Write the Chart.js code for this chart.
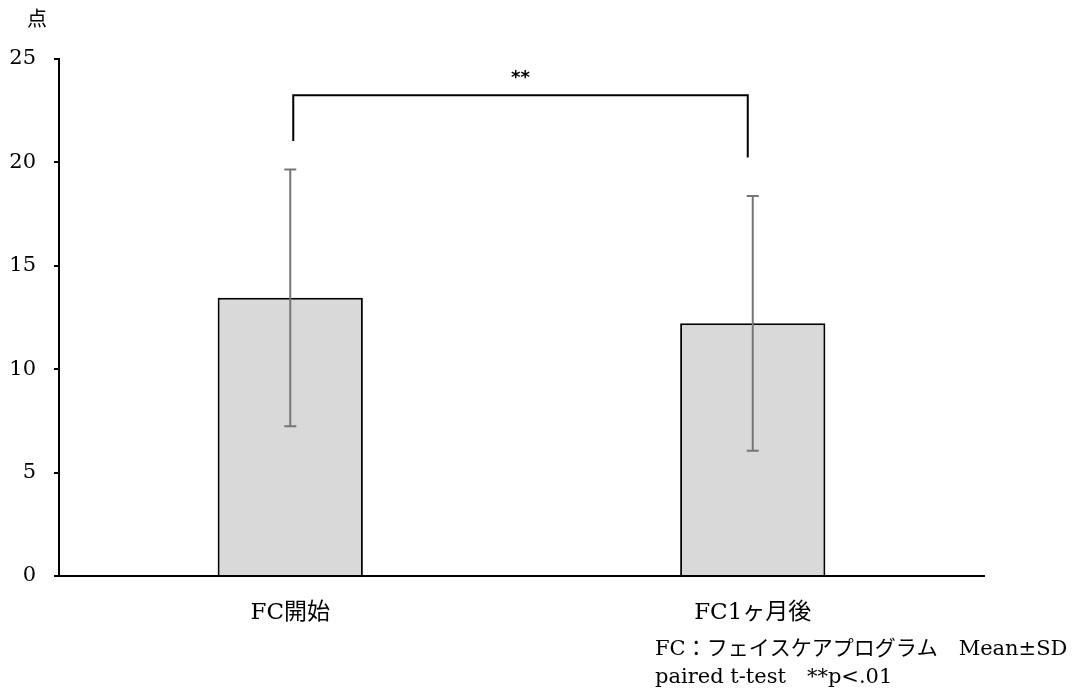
<!DOCTYPE html>
<html>
<head>
<meta charset="utf-8">
<script src="https://cdn.jsdelivr.net/npm/chart.js@4"></script>
<style>
  html, body { margin: 0; padding: 0; background: #fff; }
  #wrap { width: 1079px; height: 695px; position: relative; }
</style>
</head>
<body>
<div id="wrap"><canvas id="chart"></canvas></div>
<script>
// categories and values
const labels = ["FC開始", "FC1ヶ月後"];
const means = [13.45, 12.22];
const sds = [6.21, 6.16];
// bracket: top level, left foot, right foot (in points)
const bracketLevels = [23.25, 21.03, 20.24];
const yTicks = [0, 5, 10, 15, 20, 25];
const serif = "'DejaVu Serif', 'Noto Sans CJK JP', serif";

// error bars drawn from means/sds through the y scale
const errorBars = {
  id: "errorBars",
  afterDatasetsDraw(chart) {
    const { ctx, scales: { x, y } } = chart;
    ctx.save();
    ctx.strokeStyle = "#767676";
    ctx.lineWidth = 2;
    means.forEach((m, i) => {
      const px = x.getPixelForValue(i);
      const top = y.getPixelForValue(m + sds[i]);
      const bot = y.getPixelForValue(m - sds[i]);
      ctx.beginPath();
      ctx.moveTo(px, top); ctx.lineTo(px, bot);
      ctx.moveTo(px - 6, top); ctx.lineTo(px + 6, top);
      ctx.moveTo(px - 6, bot); ctx.lineTo(px + 6, bot);
      ctx.stroke();
    });
    ctx.restore();
  }
};

// significance bracket, unit label and notes
const extras = {
  id: "extras",
  afterDraw(chart) {
    const { ctx, scales: { x, y } } = chart;
    const x0 = x.getPixelForValue(0) + 3;
    const x1 = x.getPixelForValue(1) - 5;
    const top = y.getPixelForValue(bracketLevels[0]);
    ctx.save();
    ctx.strokeStyle = "#000";
    ctx.lineWidth = 2;
    ctx.beginPath();
    ctx.moveTo(x0, y.getPixelForValue(bracketLevels[1]));
    ctx.lineTo(x0, top);
    ctx.lineTo(x1, top);
    ctx.lineTo(x1, y.getPixelForValue(bracketLevels[2]));
    ctx.stroke();

    ctx.fillStyle = "#000";
    ctx.textAlign = "center";
    ctx.textBaseline = "middle";
    ctx.font = "bold 18px 'DejaVu Sans', sans-serif";
    ctx.fillText("**", (x0 + x1) / 2, top - 17);

    ctx.font = "20px " + serif;
    ctx.fillText("点", 37, 21);

    ctx.textAlign = "left";
    ctx.font = "21px " + serif;
    ctx.fillText("FC：フェイスケアプログラム　Mean±SD", 655, 650);
    ctx.fillText("paired t-test　**p<.01", 655, 678);
    ctx.restore();
  }
};

new Chart(document.getElementById("chart"), {
  type: "bar",
  data: {
    labels: labels,
    datasets: [{
      data: means,
      backgroundColor: "#d9d9d9",
      borderColor: "#000",
      borderWidth: 2,
      barPercentage: 0.314,
      categoryPercentage: 1
    }]
  },
  options: {
    responsive: true,
    maintainAspectRatio: false,
    animation: false,
    layout: { padding: { top: 59, right: 95, left: 0, bottom: 0 } },
    plugins: { legend: { display: false }, tooltip: { enabled: false } },
    scales: {
      x: {
        grid: { display: false },
        border: { display: true, color: "#000", width: 2 },
        ticks: { color: "#000", font: { family: serif, size: 23 }, padding: 15 },
        afterFit(scale) { scale.height = 119; }
      },
      y: {
        min: 0,
        max: 25,
        afterBuildTicks(scale) { scale.ticks = yTicks.map(v => ({ value: v })); },
        grid: { drawOnChartArea: false, drawTicks: true, tickLength: 5, color: "#000", lineWidth: 2 },
        border: { display: true, color: "#000", width: 2 },
        ticks: { color: "#000", font: { family: serif, size: 21 }, padding: 18 },
        afterFit(scale) { scale.width = 59; }
      }
    }
  },
  plugins: [errorBars, extras]
});
</script>
</body>
</html>
